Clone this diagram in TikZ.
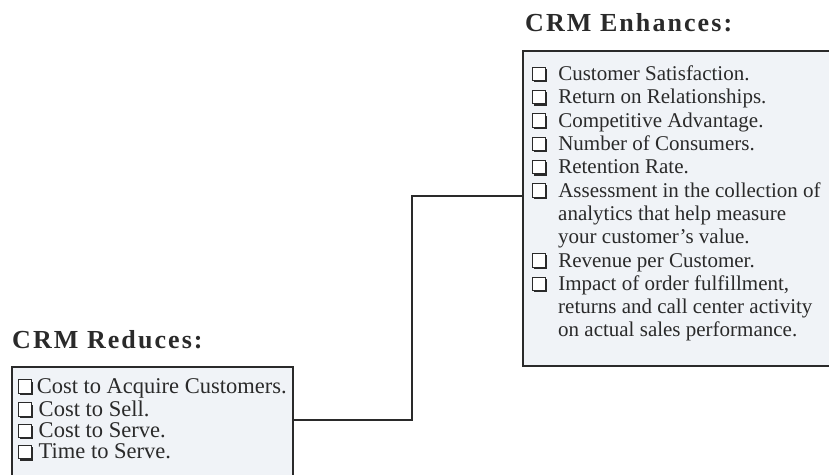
\documentclass[tikz,border=0pt]{standalone}
\usepackage{fontspec}
\setmainfont{Liberation Serif}
\newfontfamily\headfont[LetterSpace=8]{Liberation Serif}
\usepackage{tikz}

\definecolor{boxfill}{RGB}{240,243,247}
\definecolor{ink}{RGB}{42,42,42}

\newcommand{\cbx}{\tikz[baseline=0pt,line width=0.9pt]{\fill[ink] (1.8pt,-1.8pt) rectangle (15.1pt,11.7pt); \filldraw[fill=white,draw=ink] (0pt,0pt) rectangle (13.3pt,13.3pt);}}
\newcommand{\itm}[2][11pt]{\strut\cbx\hspace{#1}#2}
\newcommand{\cont}[1]{\strut\hspace*{26.5pt}#1}

\begin{document}
\begin{tikzpicture}[x=1pt,y=1pt,
  panel/.style={draw=ink,line width=1.2pt,fill=boxfill,rectangle,inner sep=0pt},
  head/.style={anchor=base west,inner sep=0pt,text=ink,font=\headfont\fontsize{26pt}{30pt}\selectfont\bfseries},
  list/.style={anchor=north west,inner sep=0pt,align=left,text=ink},
  link/.style={draw=ink,line width=1.2pt}]
\useasboundingbox (0,0) rectangle (829,474);

\node[panel,minimum width=327pt,minimum height=315pt] (enh) at (686.5,265.5) {};
\node[panel,minimum width=281pt,minimum height=122pt] (red) at (152.5,46) {};

\node[head] (enhT) at (525,442) {CRM Enhances:};
\node[head] (redT) at (12,126) {CRM Reduces:};

\node[list,font=\fontsize{21pt}{23.3pt}\selectfont] (enhL) at (531.5,409.9) {%
\itm{Customer Satisfaction.}\\
\itm{Return on Relationships.}\\
\itm{Competitive Advantage.}\\
\itm{Number of Consumers.}\\
\itm{Retention Rate.}\\
\itm{Assessment in the collection of}\\
\cont{analytics that help measure}\\
\cont{your customer’s value.}\\
\itm{Revenue per Customer.}\\
\itm{Impact of order fulfillment,}\\
\cont{returns and call center activity}\\
\cont{on actual sales performance.}};

\node[list,font=\fontsize{22.5pt}{21.3pt}\selectfont] (redL) at (17.5,95.9) {%
\itm[3.5pt]{Cost to Acquire Customers.}\\
\itm[5.5pt]{Cost to Sell.}\\
\itm[5.5pt]{Cost to Serve.}\\
\itm[5.5pt]{Time to Serve.}};

\coordinate (elbow) at (412,278);
\draw[link] ([yshift=8pt]red.east) -| (elbow) -- ([yshift=12.5pt]enh.west);
\end{tikzpicture}
\end{document}
